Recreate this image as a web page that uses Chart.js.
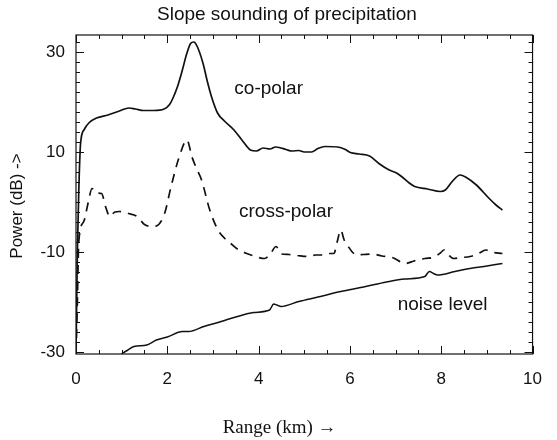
<!DOCTYPE html>
<html><head><meta charset="utf-8">
<script src="https://cdn.jsdelivr.net/npm/chart.js@4.4.1/dist/chart.umd.min.js"></script>
<style>html,body{margin:0;padding:0;background:#fff;} canvas{display:block;}</style>
</head><body>
<canvas id="c" width="557" height="440"></canvas>
<script>
// ---- data (range in km, power in dB) ----
const coPolarX = [0.00,0.03,0.06,0.10,0.18,0.28,0.45,0.70,0.95,1.16,1.30,1.48,1.70,1.93,2.05,2.12,2.22,2.33,2.42,2.51,2.58,2.65,2.78,2.88,2.97,3.10,3.25,3.46,3.65,3.82,3.95,4.10,4.25,4.37,4.45,4.60,4.73,4.88,5.00,5.16,5.30,5.45,5.73,5.90,6.01,6.20,6.43,6.65,6.86,7.00,7.13,7.30,7.42,7.70,7.98,8.09,8.25,8.41,8.55,8.77,9.04,9.20,9.34];
const coPolarY = [-30.4,-10,2,11.7,14.5,15.8,16.8,17.4,18.2,18.8,18.6,18.3,18.3,18.6,19.5,20.7,23,26.4,29.5,31.7,32,31.2,27.8,24,21,17.8,16.2,14.4,12.2,10.4,10.2,10.8,10.6,11,10.9,10.5,10.2,10.3,10,10,10.7,11.1,11,10.5,9.9,9.6,9.2,7.6,6.4,5.9,5.1,3.8,3.1,2.6,2.1,2.4,4.2,5.4,4.9,3.4,0.8,-0.6,-1.6];

const crossPolarX = [0.00,0.03,0.06,0.17,0.27,0.35,0.45,0.56,0.65,0.74,0.85,0.95,1.15,1.34,1.50,1.66,1.76,1.94,2.08,2.26,2.43,2.54,2.65,2.75,2.93,3.11,3.25,3.39,3.55,3.74,3.90,4.13,4.25,4.38,4.50,4.66,4.85,5.09,5.25,5.37,5.55,5.65,5.72,5.80,5.87,5.94,6.15,6.30,6.50,6.70,6.93,7.21,7.40,7.64,7.85,7.98,8.06,8.15,8.27,8.45,8.63,8.80,8.98,9.10,9.34];
const crossPolarY = [-30.4,-20,-8,-3.9,0,2.7,1.8,1.7,-1,-2.9,-2,-1.9,-2.3,-2.9,-4.5,-4.9,-4.8,-2.3,3,9,12.4,9,6.5,4.4,-1.6,-5.6,-7.2,-8.3,-9.5,-10.3,-10.8,-11.3,-10.5,-8.9,-10.4,-10.5,-10.7,-10.9,-10.6,-10.6,-10.3,-10.3,-8,-5.6,-7.5,-8.6,-10.6,-10.5,-10.4,-10.8,-11.1,-12.3,-11.8,-11.3,-11,-10.2,-9.6,-10.5,-11.3,-11.1,-10.9,-10.4,-9.6,-10,-10.3];

const noiseX = [1.00,1.10,1.27,1.55,1.76,2.00,2.33,2.47,2.80,3.18,3.50,3.89,4.24,4.33,4.40,4.49,4.88,5.30,5.80,6.30,6.80,7.20,7.64,7.74,7.83,7.92,8.30,8.63,9.00,9.34];
const noiseY = [-30.4,-29.8,-28.9,-28.6,-27.6,-27,-25.9,-25.9,-24.9,-23.9,-23,-22.1,-21.6,-20.4,-20.6,-20.9,-19.9,-19,-17.9,-17,-16,-15.4,-14.9,-13.9,-14.3,-14.6,-13.9,-13.3,-12.8,-12.3];

const xTicks = [0,2,4,6,8,10];
const yTicks = [-30,-10,10,30];
const seriesNames = ['co-polar','cross-polar','noise level'];
const titleText = 'Slope sounding of precipitation';
const xTitle = 'Range (km) \u2192';
const yTitle = 'Power (dB) ->';

function pts(xs, ys){ return xs.map((x,i)=>({x:x, y:ys[i]})); }

const SANS = '"Liberation Sans", Arial, sans-serif';
const SERIF = '"Liberation Serif", "Times New Roman", serif';
Chart.defaults.font.family = SANS;
Chart.defaults.color = '#111';
const INK = '#111';

// frame with inward ticks, titles and in-plot labels
const framePlugin = {
  id: 'frame',
  afterDatasetsDraw(chart){
    const ctx = chart.ctx, xs = chart.scales.x, ys = chart.scales.y, a = chart.chartArea;
    ctx.save();
    ctx.strokeStyle = INK; ctx.lineWidth = 1.2;
    ctx.strokeRect(a.left, a.top, a.right - a.left, a.bottom - a.top);
    ctx.lineWidth = 1;
    ctx.beginPath();
    for (let v = xs.min; v <= xs.max + 1e-9; v += 0.5) {
      const px = Math.round(xs.getPixelForValue(v)) + 0.5;
      const L = xTicks.includes(Math.round(v*10)/10) ? 8 : 4;
      ctx.moveTo(px, a.bottom); ctx.lineTo(px, a.bottom - L);
      ctx.moveTo(px, a.top); ctx.lineTo(px, a.top + L);
    }
    for (let v = -30; v <= ys.max + 1e-9; v += 2) {
      const py = Math.round(ys.getPixelForValue(v)) + 0.5;
      const L = yTicks.includes(v) ? 8 : 4;
      ctx.moveTo(a.left, py); ctx.lineTo(a.left + L, py);
      ctx.moveTo(a.right, py); ctx.lineTo(a.right - L, py);
    }
    ctx.stroke();
    ctx.fillStyle = INK;
    ctx.textAlign = 'center'; ctx.textBaseline = 'middle';
    // in-plot series labels
    ctx.font = '19px ' + SANS;
    const lab = [[4.22, 22.6], [4.60, -2.0], [8.03, -20.6]];
    seriesNames.forEach((n, i) => {
      ctx.fillText(n, xs.getPixelForValue(lab[i][0]), ys.getPixelForValue(lab[i][1]));
    });
    // chart title
    ctx.font = '19px ' + SANS;
    ctx.fillText(titleText, xs.getPixelForValue(4.62), 15);
    // x axis title
    ctx.font = '19px ' + SERIF;
    ctx.fillText(xTitle, xs.getPixelForValue(4.46), 428);
    // y axis title
    ctx.font = '17px ' + SANS;
    ctx.translate(17, ys.getPixelForValue(-0.8));
    ctx.rotate(-Math.PI / 2);
    ctx.fillText(yTitle, 0, 0);
    ctx.restore();
  }
};

new Chart(document.getElementById('c'), {
  type: 'scatter',
  data: {
    datasets: [
      { label: seriesNames[0], data: pts(coPolarX, coPolarY), showLine: true, borderColor: INK, borderWidth: 1.7, pointRadius: 0, cubicInterpolationMode: 'monotone' },
      { label: seriesNames[1], data: pts(crossPolarX, crossPolarY), showLine: true, borderColor: INK, borderWidth: 1.7, borderDash: [9, 7], pointRadius: 0, cubicInterpolationMode: 'monotone' },
      { label: seriesNames[2], data: pts(noiseX, noiseY), showLine: true, borderColor: INK, borderWidth: 1.5, pointRadius: 0, cubicInterpolationMode: 'monotone' }
    ]
  },
  options: {
    responsive: false,
    animation: false,
    layout: { padding: { left: 0, right: 8, top: 35, bottom: 0 } },
    plugins: {
      legend: { display: false },
      tooltip: { enabled: false },
      title: { display: false }
    },
    scales: {
      x: {
        type: 'linear', min: 0, max: 10,
        grid: { display: false, drawTicks: false },
        border: { display: false },
        afterBuildTicks: s => { s.ticks = xTicks.map(v => ({ value: v })); },
        ticks: { padding: 15, font: { size: 17 }, color: INK, maxRotation: 0, autoSkip: false },
        afterFit: s => { s.height = 86; }
      },
      y: {
        type: 'linear', min: -30.4, max: 33.4,
        grid: { display: false, drawTicks: false },
        border: { display: false },
        afterBuildTicks: s => { s.ticks = yTicks.map(v => ({ value: v })); },
        ticks: { padding: 11, font: { size: 17 }, color: INK, autoSkip: false },
        afterFit: s => { s.width = 76; }
      }
    }
  },
  plugins: [framePlugin]
});
</script>
</body></html>
